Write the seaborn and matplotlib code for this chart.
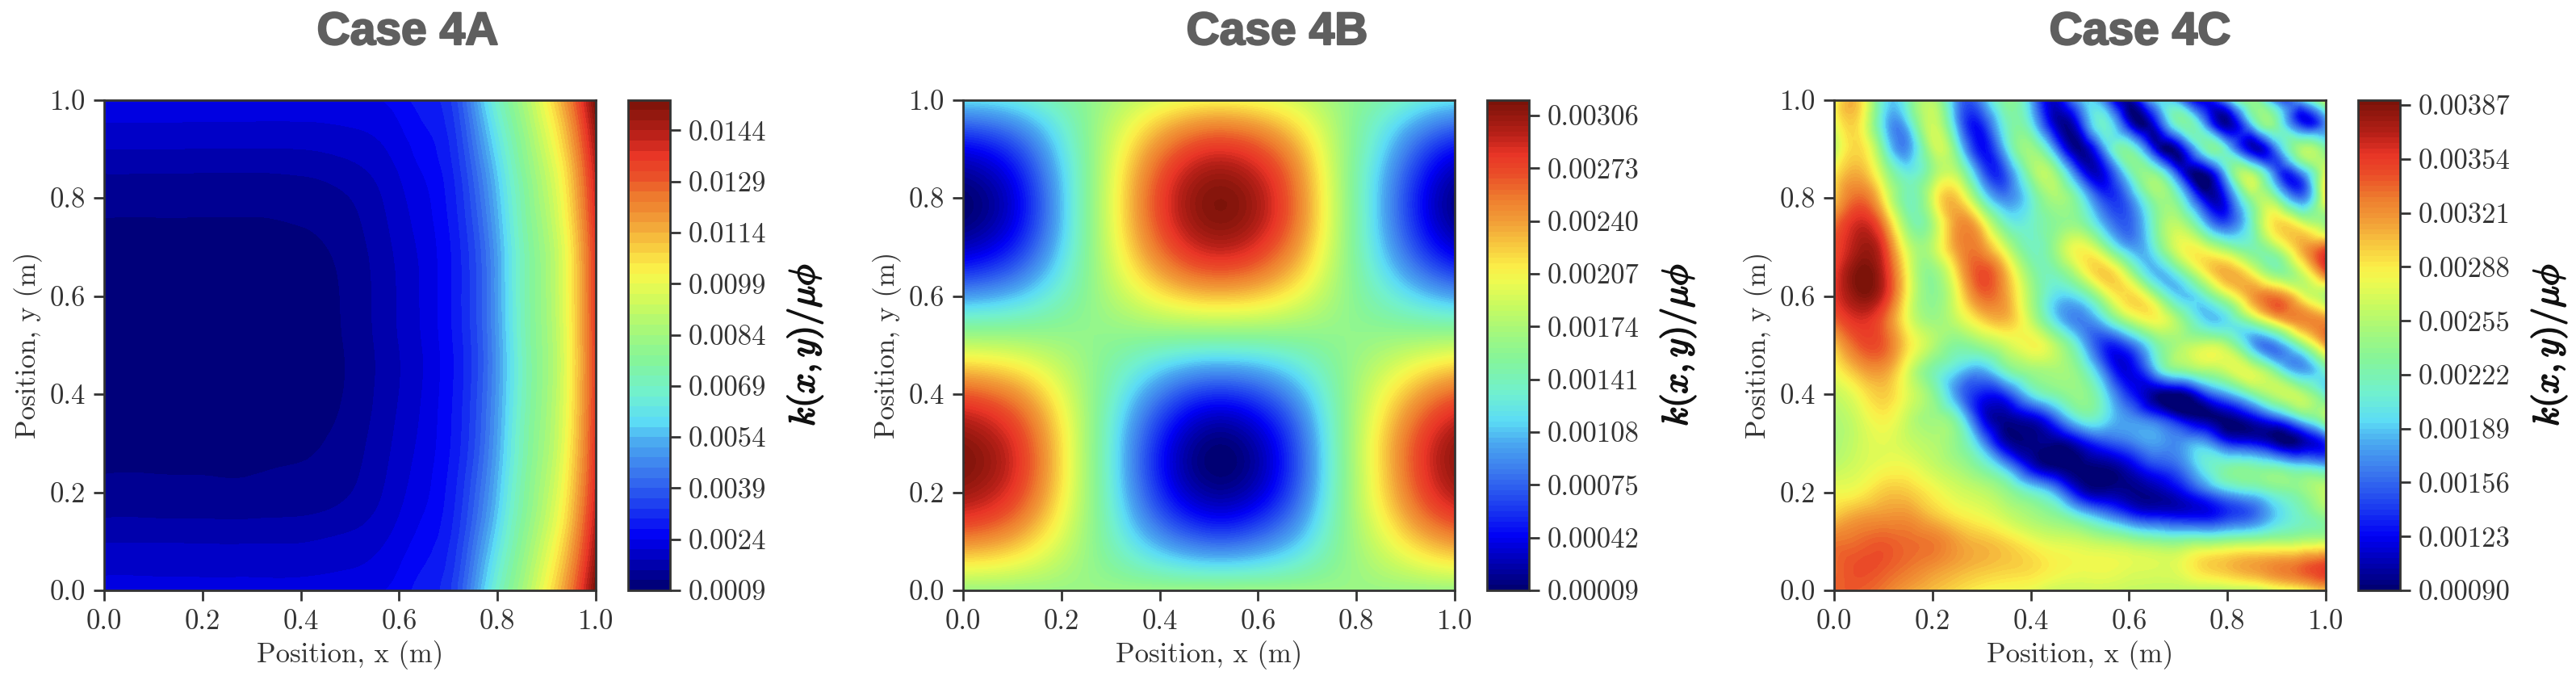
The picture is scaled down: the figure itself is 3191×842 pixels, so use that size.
import numpy as np
import matplotlib
matplotlib.use("Agg")
import matplotlib.pyplot as plt
import matplotlib.patheffects as pe
import matplotlib.tri as mtri
from matplotlib.colors import LinearSegmentedColormap
import seaborn as sns

TITLES = ["Case 4A", "Case 4B", "Case 4C"]
UNIT = 1e-5
AXIS_TICKS = [0.0, 0.2, 0.4, 0.6, 0.8, 1.0]

# Values, in units of 1e-5
x_4a = [0, .1, .2, .3, .4, .5, .6, .65, .7, .75, .8, .85, .9, .95, 1]
y_4a = [0, .05, .1, .15, .25, .35, .5, .65, .75, .85, .9, .95, 1]
k_4a = [
    [225, 225, 224, 224, 224, 230, 253, 283, 318, 468, 678, 838, 1018, 1238, 1530],
    [200, 200, 199, 199, 199, 207, 238, 269, 306, 440, 638, 807, 978, 1194, 1488],
    [178, 178, 177, 177, 178, 189, 223, 254, 294, 413, 600, 777, 940, 1152, 1450],
    [148, 148, 147, 147, 150, 165, 210, 241, 283, 389, 566, 750, 906, 1114, 1416],
    [118, 118, 118, 118, 121, 140, 194, 225, 269, 359, 524, 717, 864, 1068, 1374],
    [105, 105, 105, 105, 109, 129, 184, 216, 261, 342, 500, 698, 840, 1040, 1350],
    [100, 100, 100, 100, 104, 125, 180, 212, 258, 335, 490, 690, 830, 1030, 1340],
    [105, 105, 105, 105, 109, 129, 184, 216, 261, 342, 500, 698, 840, 1040, 1350],
    [118, 118, 118, 118, 121, 140, 194, 225, 269, 359, 524, 717, 864, 1068, 1374],
    [150, 150, 149, 149, 152, 167, 210, 241, 283, 389, 566, 750, 906, 1114, 1416],
    [180, 180, 179, 179, 180, 191, 223, 254, 294, 413, 600, 777, 940, 1152, 1450],
    [208, 208, 207, 207, 207, 212, 238, 269, 306, 440, 638, 807, 978, 1194, 1488],
    [230, 230, 228, 228, 228, 232, 255, 285, 320, 470, 680, 840, 1020, 1240, 1530],
]

x_4b = [0, .09, .18, .26, .35, .44, .525, .61, .70, .785, .87, .96, 1]
y_4b = [0, .08, .17, .26, .35, .44, .525, .61, .70, .79, .88, .96, 1]
k_4b = [
    [165, 165, 165, 165, 165, 165, 165, 165, 165, 165, 165, 165, 165],
    [231, 221, 194, 162, 126, 100, 91, 100, 126, 162, 194, 221, 228],
    [290, 272, 222, 163, 96, 48, 32, 48, 96, 163, 222, 272, 284],
    [313, 291, 233, 163, 85, 28, 9, 28, 85, 163, 233, 291, 306],
    [293, 274, 224, 163, 95, 46, 29, 46, 95, 163, 224, 274, 287],
    [235, 224, 196, 162, 124, 96, 87, 96, 124, 162, 196, 224, 232],
    [161, 161, 161, 161, 161, 161, 161, 161, 161, 161, 161, 161, 161],
    [87, 98, 126, 160, 198, 226, 235, 226, 198, 160, 126, 98, 90],
    [29, 48, 98, 159, 227, 276, 293, 276, 227, 159, 98, 48, 35],
    [9, 31, 89, 159, 237, 294, 313, 294, 237, 159, 89, 31, 16],
    [32, 50, 100, 159, 226, 274, 290, 274, 226, 159, 100, 50, 38],
    [83, 94, 124, 160, 200, 229, 239, 229, 200, 160, 124, 94, 87],
    [116, 122, 140, 160, 184, 200, 206, 200, 184, 160, 140, 122, 118],
]

x_4c = [i / 20 for i in range(21)]
y_4c = [i / 20 for i in range(21)]
k_4c = [
    [340, 340, 330, 315, 305, 295, 285, 280, 275, 265, 265, 265, 262, 260, 258, 255, 255, 255, 270, 280, 300],
    [335, 345, 342, 332, 322, 312, 305, 300, 295, 285, 280, 280, 275, 272, 275, 295, 305, 315, 325, 335, 350],
    [330, 335, 340, 335, 330, 315, 305, 295, 280, 270, 265, 255, 245, 235, 230, 235, 240, 245, 250, 255, 260],
    [300, 315, 320, 320, 305, 290, 280, 265, 250, 235, 205, 175, 145, 130, 125, 125, 140, 155, 191, 216, 238],
    [280, 285, 300, 300, 285, 270, 260, 240, 210, 175, 115, 100, 97, 100, 117, 148, 180, 197, 219, 235, 262],
    [260, 270, 280, 280, 265, 250, 225, 180, 120, 95, 90, 93, 110, 137, 155, 199, 224, 226, 219, 203, 191],
    [250, 265, 275, 265, 255, 235, 175, 105, 95, 95, 115, 142, 159, 176, 170, 177, 135, 124, 100, 101, 131],
    [252, 268, 285, 262, 245, 215, 125, 98, 110, 150, 205, 198, 172, 151, 118, 97, 92, 114, 146, 198, 250],
    [262, 282, 300, 272, 235, 170, 130, 140, 195, 225, 240, 197, 134, 99, 90, 133, 175, 221, 258, 255, 206],
    [280, 310, 318, 272, 225, 195, 180, 220, 245, 250, 228, 157, 117, 175, 230, 250, 266, 266, 215, 175, 217],
    [300, 340, 340, 292, 255, 230, 242, 265, 282, 255, 195, 135, 150, 213, 250, 262, 248, 182, 168, 230, 310],
    [335, 359, 339, 277, 245, 262, 294, 305, 262, 197, 165, 194, 251, 280, 247, 196, 198, 240, 294, 324, 320],
    [355, 383, 362, 280, 235, 277, 333, 314, 249, 196, 203, 261, 295, 251, 191, 207, 262, 315, 327, 281, 250],
    [350, 388, 365, 279, 238, 295, 345, 304, 236, 223, 267, 299, 248, 185, 216, 279, 310, 276, 231, 265, 340],
    [345, 375, 353, 265, 257, 317, 321, 262, 217, 242, 280, 236, 177, 205, 273, 271, 235, 221, 256, 309, 335],
    [330, 362, 324, 235, 249, 318, 287, 213, 211, 234, 233, 175, 153, 218, 255, 188, 146, 216, 293, 265, 240],
    [300, 335, 287, 220, 267, 299, 215, 166, 207, 250, 209, 140, 162, 236, 216, 118, 136, 241, 226, 160, 285],
    [285, 310, 257, 206, 243, 254, 158, 151, 237, 241, 140, 121, 207, 233, 139, 93, 195, 248, 151, 162, 275],
    [255, 295, 221, 172, 256, 215, 125, 190, 244, 165, 95, 172, 221, 124, 105, 207, 195, 110, 164, 250, 225],
    [270, 290, 196, 190, 265, 176, 133, 213, 202, 108, 131, 210, 120, 114, 216, 180, 100, 186, 225, 135, 170],
    [275, 298, 203, 217, 252, 166, 171, 232, 179, 111, 181, 158, 101, 186, 166, 115, 178, 240, 154, 187, 270],
]

limits_4a = (90, 1530)
limits_4b = (9, 313)
limits_4c = (90, 390)
steps = [30, 3.3, 3.3]
ticks_4a = ["0.0009", "0.0024", "0.0039", "0.0054", "0.0069", "0.0084", "0.0099", "0.0114", "0.0129", "0.0144"]
ticks_4b = ["0.00009", "0.00042", "0.00075", "0.00108", "0.00141", "0.00174", "0.00207", "0.00240", "0.00273", "0.00306"]
ticks_4c = ["0.00090", "0.00123", "0.00156", "0.00189", "0.00222", "0.00255", "0.00288", "0.00321", "0.00354", "0.00387"]

colour_stops = [
    (0.00, "#00006e"), (0.11, "#0000f5"), (0.17, "#1c3cf0"), (0.24, "#3b78ee"),
    (0.30, "#4aa8f0"), (0.345, "#5cdcf5"), (0.40, "#70f0d0"), (0.47, "#85f59a"),
    (0.52, "#a0f880"), (0.58, "#c8fa60"), (0.63, "#eefa50"), (0.66, "#fbee48"),
    (0.70, "#f8cc40"), (0.75, "#f2a038"), (0.80, "#ee7c2e"), (0.85, "#ea4c28"),
    (0.89, "#e83426"), (0.93, "#b82018"), (1.00, "#781208"),
]

W, H = 3191, 842
DPI = 100
sns.set_theme(style="ticks")
plt.rcParams.update({
    "font.family": ["cmr10", "DejaVu Serif"],
    "axes.formatter.use_mathtext": True,
    "mathtext.fontset": "cm",
    "axes.unicode_minus": False,
})
INK = "#333333"
cmap = LinearSegmentedColormap.from_list("soft_jet", colour_stops, N=512)

fig = plt.figure(figsize=(W / DPI, H / DPI), dpi=DPI, facecolor="white")


def box(x0, x1, y0, y1):
    return [x0 / W, 1 - y1 / H, (x1 - x0) / W, (y1 - y0) / H]


panels = [
    (x_4a, y_4a, k_4a, limits_4a, ticks_4a, 129, 778, 505),
    (x_4b, y_4b, k_4b, limits_4b, ticks_4b, 1193, 1842, 1582),
    (x_4c, y_4c, k_4c, limits_4c, ticks_4c, 2272, 2921, 2651),
]

for (xs, ys, zs, lim, tlabels, left, cleft, tx), title, step in zip(panels, TITLES, steps):
    ax = fig.add_axes(box(left, left + 609, 123.5, 731))
    cax = fig.add_axes(box(cleft, cleft + 52, 123.5, 731))
    X, Y = np.meshgrid(xs, ys)
    Z = np.array(zs, dtype=float)
    tri = mtri.Triangulation(X.ravel(), Y.ravel())
    interp = mtri.CubicTriInterpolator(tri, Z.ravel(), kind="min_E")
    fine_tri, fine_z = mtri.UniformTriRefiner(tri).refine_field(Z.ravel(), triinterpolator=interp, subdiv=3)
    fine_z = np.clip(fine_z, lim[0], lim[1])
    levels = np.arange(lim[0], lim[1] + step, step) * UNIT
    cs = ax.tricontourf(fine_tri, fine_z * UNIT, levels=levels, cmap=cmap)
    cs.set_edgecolor("face")
    cs.set_linewidth(0.3)
    ax.set_xlim(0, 1)
    ax.set_ylim(0, 1)
    ax.set_xticks(AXIS_TICKS)
    ax.set_yticks(AXIS_TICKS)
    ax.set_xticklabels([f"{t:.1f}" for t in AXIS_TICKS])
    ax.set_yticklabels([f"{t:.1f}" for t in AXIS_TICKS])
    ax.tick_params(length=9.5, width=2, labelsize=25, color=INK, labelcolor=INK, pad=7)
    ax.set_xlabel("Position, x (m)", fontsize=25, color=INK, labelpad=5)
    ax.set_ylabel("Position, y (m)", fontsize=25, color=INK, labelpad=6)
    for s in ax.spines.values():
        s.set_linewidth(2)
        s.set_color(INK)
    cb = fig.colorbar(cs, cax=cax)
    cb.set_ticks([float(t) for t in tlabels], labels=tlabels)
    cb.ax.minorticks_off()
    cb.ax.tick_params(length=9.5, width=2, labelsize=25, color=INK, labelcolor=INK, pad=7)
    cb.outline.set_linewidth(2)
    cb.outline.set_edgecolor(INK)
    lab = cb.ax.set_ylabel(r"$k(x,y)/\mu\phi$", fontsize=32, color="#111111", labelpad=16)
    lab.set_path_effects([pe.withStroke(linewidth=1.3, foreground="#111111")])
    t = fig.text(tx / W, 1 - 40 / H, title, family="Liberation Sans", fontweight="bold",
                 fontsize=41, color="#5f5f5f", ha="center", va="center")
    t.set_path_effects([pe.withStroke(linewidth=1.6, foreground="#5f5f5f")])

fig.savefig("out.png", dpi=DPI, facecolor="white")
